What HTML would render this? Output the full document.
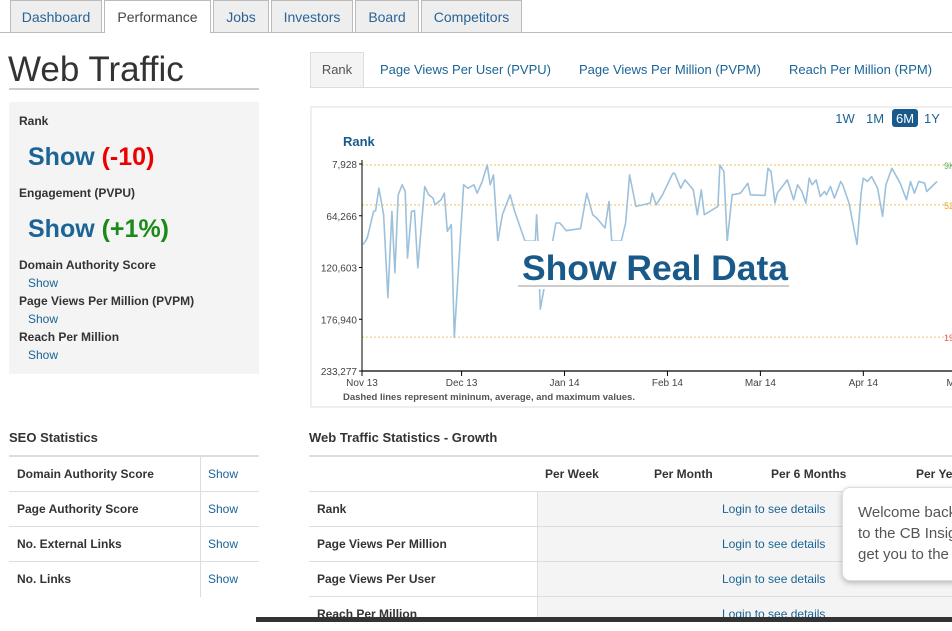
<!DOCTYPE html>
<html><head><meta charset="utf-8"><style>
body{margin:0;width:952px;height:622px;overflow:hidden;background:#fff;font-family:"Liberation Sans",Arial,sans-serif;position:relative}
.a{position:absolute;white-space:nowrap}
.tab{position:absolute;top:0;height:32px;background:#eee;border:1px solid #bbb;border-bottom:none;color:#2a6496;font-size:14px;line-height:32px;text-align:center;box-sizing:border-box}
.lk{color:#1a6496}
.lbl{font-size:12px;color:#333;font-weight:bold}
.row{position:absolute;height:35px;border-top:1px solid #ddd;box-sizing:border-box;font-size:12px;line-height:34px;color:#333;font-weight:bold}
</style></head><body>
<div class="a" style="left:0;top:32px;width:952px;height:1px;background:#bbb"></div>
<div class="tab" style="left:10px;width:92px">Dashboard</div>
<div class="tab" style="left:104px;width:107px;background:#fff;color:#444;height:33px">Performance</div>
<div class="tab" style="left:213px;width:56px">Jobs</div>
<div class="tab" style="left:271px;width:82px">Investors</div>
<div class="tab" style="left:355px;width:64px">Board</div>
<div class="tab" style="left:421px;width:101px">Competitors</div>

<div class="a" style="left:8px;top:50px;font-size:35px;color:#333;line-height:40px">Web Traffic</div>
<div class="a" style="left:9px;top:88px;width:250px;height:2px;background:#ccc"></div>

<div class="a" style="left:9px;top:102px;width:250px;height:272px;background:#f4f4f4"></div>
<div class="a lbl" style="left:19px;top:114px">Rank</div>
<div class="a" style="left:28px;top:143px;font-size:25px;font-weight:bold;color:#1a6496">Show <span style="color:#e00">(-10)</span></div>
<div class="a lbl" style="left:19px;top:186px">Engagement (PVPU)</div>
<div class="a" style="left:28px;top:215px;font-size:25px;font-weight:bold;color:#1a6496">Show <span style="color:#1a8a1a">(+1%)</span></div>
<div class="a lbl" style="left:19px;top:258px">Domain Authority Score</div>
<div class="a lk" style="left:28px;top:276px;font-size:12px">Show</div>
<div class="a lbl" style="left:19px;top:294px">Page Views Per Million (PVPM)</div>
<div class="a lk" style="left:28px;top:312px;font-size:12px">Show</div>
<div class="a lbl" style="left:19px;top:330px">Reach Per Million</div>
<div class="a lk" style="left:28px;top:348px;font-size:12px">Show</div>

<div class="a" style="left:310px;top:87px;width:642px;height:1px;background:#ddd"></div>
<div class="a" style="left:310px;top:52px;width:54px;height:35px;background:#f4f4f4;border:1px solid #ddd;border-bottom:none;box-sizing:border-box;font-size:13px;color:#555;text-align:center;line-height:34px">Rank</div>
<div class="a lk" style="left:380px;top:62px;font-size:13px">Page Views Per User (PVPU)</div>
<div class="a lk" style="left:579px;top:62px;font-size:13px">Page Views Per Million (PVPM)</div>
<div class="a lk" style="left:789px;top:62px;font-size:13px">Reach Per Million (RPM)</div>

<div class="a" style="left:310px;top:106px;width:650px;height:302px;border:2px solid #eee;box-sizing:border-box"></div>
<svg class="a" style="left:0;top:0" width="952" height="622" id="chart"></svg>

<div class="a" style="left:9px;top:430px;font-size:13px;font-weight:bold;color:#333">SEO Statistics</div>
<div class="a" style="left:9px;top:455px;width:250px;height:2px;background:#ddd"></div>
<div class="row" style="left:9px;top:457px;width:250px;border-top:none"><span style="padding-left:8px">Domain Authority Score</span></div>
<div class="row" style="left:9px;top:491px;width:250px"><span style="padding-left:8px">Page Authority Score</span></div>
<div class="row" style="left:9px;top:526px;width:250px"><span style="padding-left:8px">No. External Links</span></div>
<div class="row" style="left:9px;top:561px;width:250px;height:36px"><span style="padding-left:8px">No. Links</span></div>
<div class="a" style="left:200px;top:457px;width:1px;height:140px;background:#ddd"></div>
<div class="a lk" style="left:208px;top:467px;font-size:12px">Show</div>
<div class="a lk" style="left:208px;top:502px;font-size:12px">Show</div>
<div class="a lk" style="left:208px;top:537px;font-size:12px">Show</div>
<div class="a lk" style="left:208px;top:572px;font-size:12px">Show</div>

<div class="a" style="left:309px;top:430px;font-size:13px;font-weight:bold;color:#333">Web Traffic Statistics - Growth</div>
<div class="a" style="left:309px;top:455px;width:643px;height:2px;background:#ddd"></div>
<div class="a" style="left:537px;top:491px;width:415px;height:131px;background:#f4f4f4;border-left:1px solid #ddd"></div>
<div class="a lbl" style="left:545px;top:467px">Per Week</div>
<div class="a lbl" style="left:654px;top:467px">Per Month</div>
<div class="a lbl" style="left:771px;top:467px">Per 6 Months</div>
<div class="a lbl" style="left:916px;top:467px">Per Year</div>
<div class="row" style="left:309px;top:491px;width:643px"><span style="padding-left:8px">Rank</span></div>
<div class="row" style="left:309px;top:526px;width:643px"><span style="padding-left:8px">Page Views Per Million</span></div>
<div class="row" style="left:309px;top:561px;width:643px"><span style="padding-left:8px">Page Views Per User</span></div>
<div class="row" style="left:309px;top:596px;width:643px"><span style="padding-left:8px">Reach Per Million</span></div>
<div class="a lk" style="left:722px;top:502px;font-size:12px">Login to see details</div>
<div class="a lk" style="left:722px;top:537px;font-size:12px">Login to see details</div>
<div class="a lk" style="left:722px;top:572px;font-size:12px">Login to see details</div>
<div class="a lk" style="left:722px;top:607px;font-size:12px">Login to see details</div>

<div class="a" style="left:842px;top:487px;width:130px;height:94px;background:#fff;border:1px solid #ddd;border-radius:8px;box-shadow:0 2px 6px rgba(0,0,0,.25);font-size:15px;color:#555;line-height:21px;padding:14px 0 0 15px;box-sizing:border-box">Welcome back<br>to the CB Insights<br>get you to the</div>
<div class="a" style="left:256px;top:617px;width:696px;height:5px;background:#333"></div>

<script>
const days=[0.4,1.6,3.5,4.1,5.1,6.5,7.8,9.0,9.9,10.9,12.1,13.0,13.7,14.9,15.8,16.8,18.9,20.1,21.4,22.0,23.8,24.8,25.7,26.9,27.8,30.6,31.9,33.7,34.7,36.2,37.7,38.6,39.6,40.9,42.3,44.6,46.0,49.1,52.2,52.6,53.0,53.7,58.4,59.6,61.5,65.8,67.7,69.5,70.7,73.2,74.4,75.2,78.1,79.4,80.6,82.5,86.8,87.4,88.6,90.5,93.6,94.2,96.0,97.3,99.8,101.0,102.2,103.1,107.2,107.8,109.0,110.0,111.5,114.0,116.2,117.0,121.4,122.3,123.2,124.4,125.1,128.1,130.0,131.2,132.5,133.7,134.7,135.6,136.8,138.0,139.3,139.9,141.1,142.3,144.2,144.8,146.7,149.1,150.4,151.0,152.2,153.5,155.3,156.8,157.8,159.6,162.1,164.0,165.2,166.4,167.7,169.5,170.1,173.2];
const ranks=[95600,88400,59500,58800,34300,63100,153400,59500,126300,41500,30600,37900,110100,59500,58800,120900,32400,41500,45100,52300,46900,39700,81200,74000,196700,30600,34300,30600,39700,27000,9000,30600,19800,92000,63100,41500,59500,92000,92000,63100,92000,166000,72200,72200,80500,78300,39700,63100,66700,77600,48700,92000,92000,72200,19800,54100,50500,39700,52300,41500,18000,18000,34300,25200,36100,63100,36100,63100,54100,9000,16200,92000,41500,39700,28800,41500,42200,12600,16200,50500,39700,25200,46900,30600,37900,50500,23400,30600,25200,43300,37900,41500,32400,45100,27000,30600,50500,95600,37900,23400,27000,21600,34300,64900,30600,12600,28800,46900,27000,39700,27000,28800,37900,27000];
const yTicks=[7928,64266,120603,176940,233277];
const xTickDays=[0,30,61,92,120,151,181];
const xTickLabels=["Nov 13","Dec 13","Jan 14","Feb 14","Mar 14","Apr 14","May 14"];
const refLines=[9000,52400,196400];
const refColors=["#f0d890","#f0d890","#f5d8a8"];
const refLabels=["9K","52K","196K"];
const refLabelColors=["#6a6","#e9a030","#e55"];

const svg=document.getElementById('chart');
const NS='http://www.w3.org/2000/svg';
const x0=362,pxPerDay=3.32,yTop=164,yBot=371;
const X=d=>x0+d*pxPerDay;
const Y=r=>yTop+(r-yTicks[0])/(yTicks[4]-yTicks[0])*(yBot-yTop);
function mk(t,a){const e=document.createElementNS(NS,t);for(const k in a)e.setAttribute(k,a[k]);svg.appendChild(e);return e;}
function tx(s,a){const e=mk('text',a);e.textContent=s;return e;}

let t=tx('Rank',{x:343,y:146,'font-size':13,'font-weight':'bold',fill:'#1a5a8a','font-family':'Liberation Sans'});



refLines.forEach((r,i)=>{
 const l=mk('line',{x1:x0,x2:952,y1:Y(r),y2:Y(r),stroke:refColors[i],'stroke-width':1.5,'stroke-dasharray':'2,2'});
 
 
 const lt=tx(refLabels[i],{x:944,y:Y(r)+4,'font-size':9,fill:refLabelColors[i],'font-family':'Liberation Sans'});
 
 
});

let d='';days.forEach((v,i)=>{d+=(i?'L':'M')+X(v).toFixed(1)+','+Y(ranks[i]).toFixed(1);});
const p=mk('path',{d:d,fill:'none',stroke:'#9dc0db','stroke-width':1.6,'stroke-linejoin':'round'});



const mask=mk('rect',{x:494,y:241,width:330,height:48,fill:'#fff'});



const ya=mk('line',{x1:x0,x2:x0,y1:yTop-4,y2:yBot,stroke:'#000','stroke-width':1});


const xa=mk('line',{x1:x0,x2:952,y1:yBot,y2:yBot,stroke:'#000','stroke-width':1.2});



yTicks.forEach(v=>{
 const lt=tx(v.toLocaleString('en-US'),{x:357,y:Y(v)+4,'font-size':10,fill:'#444','text-anchor':'end','font-family':'Liberation Sans'});
 
 
 mk('line',{x1:x0-3,x2:x0,y1:Y(v),y2:Y(v),stroke:'#000'});
});
xTickDays.forEach((v,i)=>{
 const tk=mk('line',{x1:X(v),x2:X(v),y1:yBot,y2:yBot+5,stroke:'#000'});
 
 
 const lt=tx(xTickLabels[i],{x:X(v),y:yBot+15,'font-size':10,fill:'#444','text-anchor':'middle','font-family':'Liberation Sans'});
 
 
});
const note=tx('Dashed lines represent mininum, average, and maximum values.',{x:343,y:400,'font-size':9.5,fill:'#555','font-weight':'bold','font-family':'Liberation Sans'});



const srd=tx('Show Real Data',{x:522,y:280,'font-size':35,'font-weight':'bold',fill:'#1a5a8a','font-family':'Liberation Sans',textLength:266,lengthAdjust:'spacingAndGlyphs'});


mk('line',{x1:518,x2:789,y1:286,y2:286,stroke:'#bbb','stroke-width':1.5});

const rng=['1W','1M','6M','1Y'],rx=[846,876,906,933];
rng.forEach((s,i)=>{
 if(s==='6M'){const r=mk('rect',{x:892,y:109,width:26,height:18,rx:3,fill:'#1a5a8a'});}
 const b=tx(s,{x:rx[i]-1,y:123,'font-size':13,'text-anchor':'middle',fill:s==='6M'?'#fff':'#1a6496','font-family':'Liberation Sans'});
 
 
});
</script>
</body></html>
